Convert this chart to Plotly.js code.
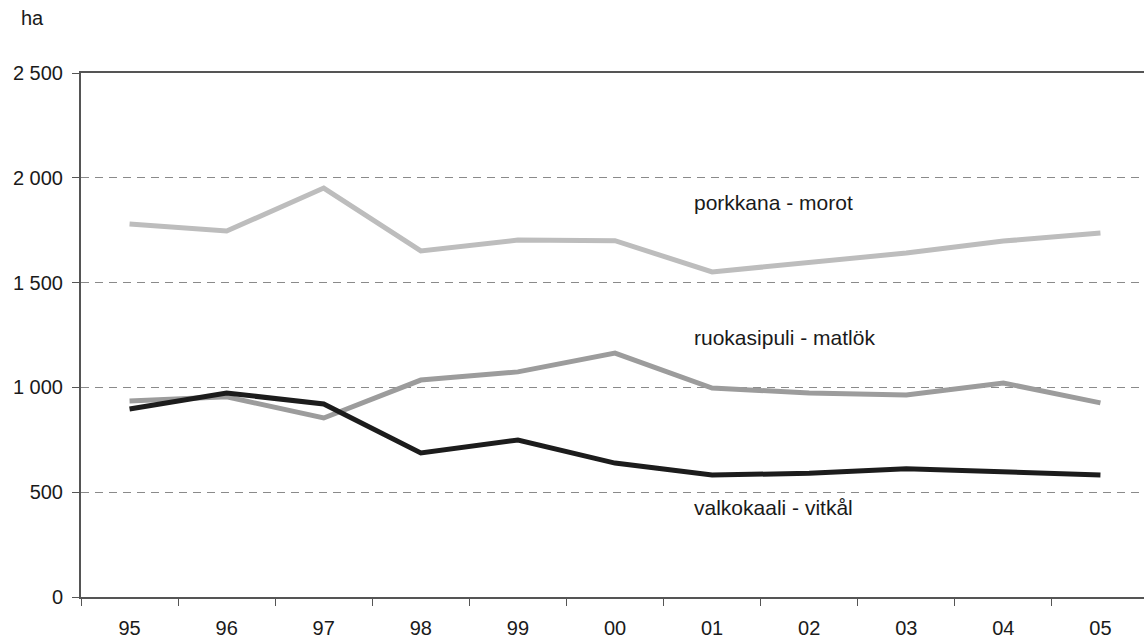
<!DOCTYPE html>
<html>
<head>
<meta charset="utf-8">
<script src="https://cdn.plot.ly/plotly-3.0.1.min.js"></script>
<style>
html,body{margin:0;padding:0;overflow:hidden;background:#fff;}
#chart{width:1150px;height:639px;}
</style>
</head>
<body>
<div id="chart"></div>
<script>
const years = ["95","96","97","98","99","00","01","02","03","04","05"];
const porkkana = [1780, 1746, 1951, 1651, 1703, 1700, 1551, 1598, 1641, 1698, 1737];
const ruokasipuli = [935, 955, 854, 1035, 1074, 1164, 997, 973, 964, 1021, 926];
const valkokaali = [897, 973, 921, 687, 749, 639, 582, 590, 612, 596, 582];
const seriesNames = ["porkkana - morot", "ruokasipuli - matlök", "valkokaali - vitkål"];
const unitLabel = "ha";

const font = "Liberation Sans, Arial, sans-serif";

const traces = [
  {x: years, y: porkkana, name: seriesNames[0], mode: "lines", line: {color: "#bdbdbd", width: 5}},
  {x: years, y: ruokasipuli, name: seriesNames[1], mode: "lines", line: {color: "#9c9c9c", width: 5}},
  {x: years, y: valkokaali, name: seriesNames[2], mode: "lines", line: {color: "#1c1c1c", width: 5}}
];

const layout = {
  width: 1150, height: 639,
  margin: {l: 81, r: 1, t: 73, b: 42},
  paper_bgcolor: "#fff", plot_bgcolor: "#fff",
  showlegend: false,
  separators: ". ",
  font: {family: font, size: 20, color: "#222"},
  xaxis: {
    type: "category", range: [-0.5, 10.5],
    showline: true, linecolor: "#555", linewidth: 2, mirror: true,
    showgrid: false, zeroline: false,
    ticks: "outside", tickson: "boundaries", ticklen: 7, tickcolor: "#555", tickwidth: 1,
    ticklabelstandoff: 12,
    tickfont: {family: font, size: 20, color: "#1a1a1a"}
  },
  yaxis: {
    range: [0, 2500], tick0: 0, dtick: 500,
    separatethousands: true,
    showline: true, linecolor: "#555", linewidth: 2,
    showgrid: true, gridcolor: "#8a8a8a", gridwidth: 1, griddash: "8px,6px",
    zeroline: false,
    ticks: "outside", ticklen: 7, tickcolor: "#555", tickwidth: 1,
    ticklabelstandoff: 5,
    tickfont: {family: font, size: 20, color: "#1a1a1a"}
  },
  annotations: [
    {xref: "paper", yref: "paper", x: 0.005, y: 1.1, xanchor: "left", yanchor: "middle", showarrow: false,
     text: unitLabel, font: {family: font, size: 20, color: "#1a1a1a"}, xshift: -67, yshift: 3},
    {xref: "paper", yref: "y", x: 0.572, y: 1880, xanchor: "left", yanchor: "middle", showarrow: false,
     text: seriesNames[0], font: {family: font, size: 21, color: "#1a1a1a"}},
    {xref: "paper", yref: "y", x: 0.572, y: 1240, xanchor: "left", yanchor: "middle", showarrow: false,
     text: seriesNames[1], font: {family: font, size: 21, color: "#1a1a1a"}},
    {xref: "paper", yref: "y", x: 0.572, y: 425, xanchor: "left", yanchor: "middle", showarrow: false,
     text: seriesNames[2], font: {family: font, size: 21, color: "#1a1a1a"}}
  ]
};

Plotly.newPlot("chart", traces, layout, {displayModeBar: false, staticPlot: true});
</script>
</body>
</html>
